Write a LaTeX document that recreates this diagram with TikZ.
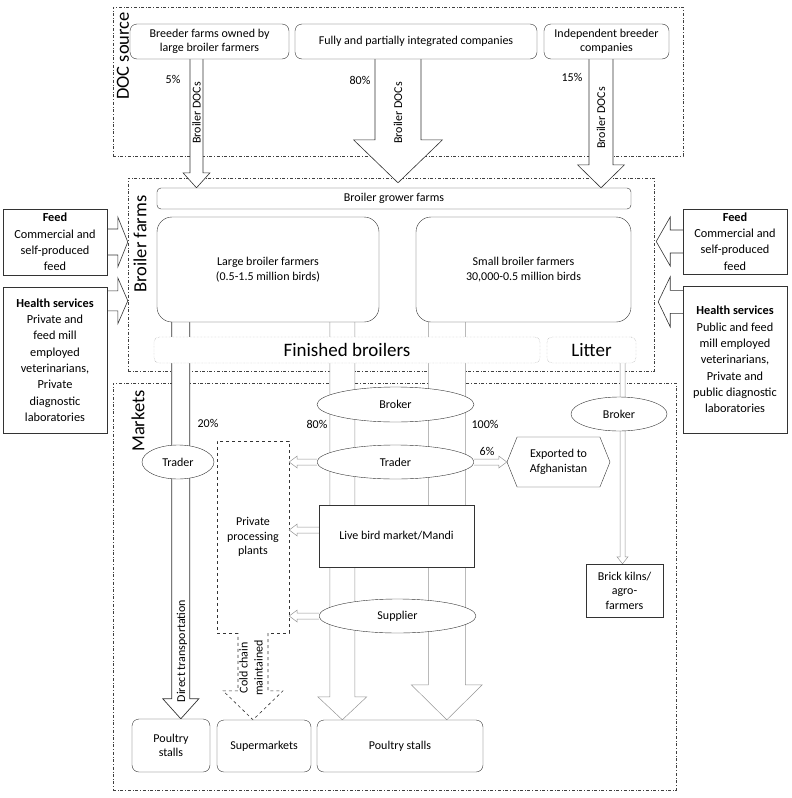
\documentclass[tikz,border=0pt]{standalone}
\usepackage{fontspec}
\setmainfont{Carlito}
\usetikzlibrary{positioning,calc,shapes.geometric,shapes.symbols,backgrounds}
\definecolor{flowgray}{RGB}{150,150,150}
\colorlet{linedark}{black!80}
\colorlet{framegray}{black!75}

\newcommand\blockarrow[6][]{%
  \coordinate (ba_h) at ($(#3)!#6pt!(#2)$);
  \draw[#1] ($(#2)!#4pt!90:(#3)$) -- ($(ba_h)!#4pt!90:(#3)$) -- ($(ba_h)!#5pt!90:(#3)$) -- (#3)
    -- ($(ba_h)!#5pt!-90:(#3)$) -- ($(ba_h)!#4pt!-90:(#3)$) -- ($(#2)!#4pt!-90:(#3)$);
}

\begin{document}
\begin{tikzpicture}[x=1pt,y=-1pt,
    every node/.style={font=\fontsize{12}{14.5}\selectfont,align=center,inner sep=1pt},
    rbox/.style={draw=linedark,fill=white,rounded corners=7pt,inner sep=0pt},
    sqbox/.style={draw=linedark,fill=white,inner sep=0pt},
    oval/.style={draw=linedark,fill=white,ellipse,inner sep=0pt},
    frame/.style={draw=framegray,dash dot,inner sep=0pt},
    softbox/.style={draw=flowgray,densely dotted,fill=white,rounded corners=5pt,inner sep=0pt,font=\fontsize{19}{21}\selectfont},
    biglabel/.style={font=\fontsize{18.5}{20}\selectfont,rotate=90},
    sidebox/.style={draw=linedark,fill=white,inner sep=0pt,minimum width=104pt,font=\fontsize{12.3}{16.3}\selectfont},
    flow/.style={draw=flowgray,fill=white,line width=.5pt},
    darkflow/.style={draw=linedark,fill=white,line width=.7pt},
    feedflow/.style={draw=linedark,fill=white,line width=.6pt},
    coldflow/.style={draw=linedark,fill=white,dashed,line width=.6pt}]
  \useasboundingbox (0,0) rectangle (792,798);

  % DOC sources
  \node[rbox,minimum width=159pt,minimum height=35pt] (breeder) at (209.5,41.5) {Breeder farms owned by\\large broiler farmers};
  \node[rbox,minimum width=242pt,minimum height=35pt] (integrated) at (416,41.5) {Fully and partially integrated companies};
  \node[rbox,minimum width=125pt,minimum height=35pt] (independent) at (606.5,41.5) {Independent breeder\\companies};

  % broiler farms
  \node[rbox,rounded corners=4pt,minimum width=474pt,minimum height=21pt] (grower) at (394,198.5) {Broiler grower farms};
  \node[rbox,rounded corners=15pt,minimum width=222pt,minimum height=105pt] (large) at (268,269.5) {Large broiler farmers\\(0.5-1.5 million birds)};
  \node[rbox,rounded corners=15pt,minimum width=215pt,minimum height=105pt] (small) at (523.5,269.5) {Small broiler farmers\\30,000-0.5 million birds};
  \node[softbox,minimum width=386pt,minimum height=26pt] (finished) at (347,350) {Finished broilers};
  \node[softbox,minimum width=89pt,minimum height=26pt] (litter) at (591.5,350) {Litter};

  % inputs
  \node[sidebox,minimum height=66pt] (feedL) at (55,242) {\textbf{Feed}\\Commercial and\\self-produced\\feed};
  \node[sidebox,minimum height=146pt] (healthL) at (55,360) {\textbf{Health services}\\Private and\\feed mill\\employed\\veterinarians,\\Private\\diagnostic\\laboratories};
  \node[sidebox,minimum height=65pt] (feedR) at (735,241.5) {\textbf{Feed}\\Commercial and\\self-produced\\feed};
  \node[sidebox,minimum height=147pt] (healthR) at (735,359.5) {\textbf{Health services}\\Public and feed\\mill employed\\veterinarians,\\Private and\\public diagnostic\\laboratories};

  % markets
  \node[oval,minimum width=157pt,minimum height=35pt] (brokerM) at (395.5,404.5) {Broker};
  \node[oval,minimum width=157pt,minimum height=34pt] (traderM) at (395.5,462) {Trader};
  \node[oval,minimum width=72pt,minimum height=34pt] (traderL) at (178,462) {Trader};
  \node[sqbox,minimum width=155pt,minimum height=62pt] (mandi) at (396.5,536) {Live bird market/Mandi};
  \node[oval,minimum width=157pt,minimum height=34pt] (supplier) at (397.5,616) {Supplier};
  \node[draw=linedark,dashed,fill=white,inner sep=0pt,minimum width=72pt,minimum height=192pt] (ppp) at (253,537) {Private\\processing\\plants};
  \node[draw=linedark,fill=white,signal,signal to=west and east,signal pointer angle=136,inner sep=0pt,minimum width=103pt,minimum height=50pt] (export) at (558.5,462) {Exported to\\Afghanistan};
  \node[oval,minimum width=96pt,minimum height=34pt] (brokerR) at (619,414) {Broker};
  \node[sqbox,minimum width=77pt,minimum height=53pt] (brick) at (624.5,590.5) {Brick kilns/\\agro-\\farmers};
  \node[rbox,minimum width=78pt,minimum height=53pt] (stallsL) at (171,745.5) {Poultry\\stalls};
  \node[rbox,minimum width=94pt,minimum height=52pt] (supermkt) at (264,746) {Supermarkets};
  \node[rbox,minimum width=166pt,minimum height=52pt] (stallsR) at (400,746) {Poultry stalls};

  \begin{pgfonlayer}{background}
    \node[frame,minimum width=570pt,minimum height=149pt] (docsrc) at (398,81.5) {};
    \node[frame,minimum width=526pt,minimum height=193pt] (farms) at (391,274.5) {};
    \node[frame,minimum width=563pt,minimum height=407pt] (markets) at (394.5,586.5) {};

    \coordinate (doc1) at ($(breeder.south)+(-13,0)$);
    \coordinate (doc2) at ($(integrated.south)+(-18,0)$);
    \coordinate (doc3) at ($(independent.south)+(-5.5,0)$);
    \blockarrow[feedflow]{doc1}{doc1 |- grower.north}{6.5}{13.5}{15}
    \blockarrow[feedflow]{doc2}{$(doc2 |- grower.north)+(0,-5)$}{23}{44.5}{43}
    \blockarrow[feedflow]{doc3}{doc3 |- grower.north}{12}{23.5}{23}

    \coordinate (feedLa) at (feedL.east);
    \coordinate (healthLa) at ($(healthL.north east)+(0,14)$);
    \coordinate (feedRa) at (feedR.west);
    \coordinate (healthRa) at ($(healthR.north west)+(0,16)$);
    \blockarrow[feedflow]{feedLa}{farms.west |- feedLa}{13}{25}{10}
    \blockarrow[feedflow]{healthLa}{farms.west |- healthLa}{10}{23}{10}
    \blockarrow[feedflow]{feedRa}{$(farms.east |- feedRa)+(2,0)$}{11.5}{24.5}{14}
    \blockarrow[feedflow]{healthRa}{$(farms.east |- healthRa)+(4,0)$}{11.5}{25}{12}

    \coordinate (direct) at ($(large.south west)+(24,0)$);
    \coordinate (viaLarge) at ($(large.south west)+(185.5,0)$);
    \coordinate (viaSmall) at ($(small.south west)+(31,0)$);
    \coordinate (litterOut) at ($(litter.south)+(31,0)$);
    \blockarrow[darkflow]{direct}{direct |- stallsL.north}{9}{18}{20}
    \blockarrow[flow]{viaLarge}{viaLarge |- stallsR.north}{12.5}{24.5}{23}
    \blockarrow[flow]{viaSmall}{viaSmall |- stallsR.north}{18.5}{35.5}{35}
    \blockarrow[flow]{litterOut}{litterOut |- brick.north}{2.5}{5.5}{7}
  \end{pgfonlayer}

  \coordinate (mandiOut) at ($(mandi.west)+(0,-6)$);
  \blockarrow[flow]{traderM.west}{ppp.east |- traderM.west}{3}{6}{8}
  \blockarrow[flow]{mandiOut}{ppp.east |- mandiOut}{3}{6}{8}
  \blockarrow[flow]{supplier.west}{ppp.east |- supplier.west}{3}{6}{8}
  \blockarrow[flow]{traderM.east}{export.west}{3}{6}{8}
  \blockarrow[coldflow]{ppp.south}{ppp.south |- supermkt.north}{15}{30}{29}

  % labels
  \node[biglabel] (docLabel) at (123,56) {DOC source};
  \node[biglabel] (farmsLabel) at (140,244) {Broiler farms};
  \node[biglabel] (marketsLabel) at (138,421) {Markets};
  \node[rotate=90] (docTxt1) at (196.5,113) {Broiler DOCs};
  \node[rotate=90] (docTxt2) at (398,113) {Broiler DOCs};
  \node[rotate=90] (docTxt3) at (601,118) {Broiler DOCs};
  \node (pct5) at (173,79) {5\%};
  \node (pct80a) at (360,80) {80\%};
  \node (pct15) at (572,77) {15\%};
  \node (pct20) at (208,423) {20\%};
  \node (pct80b) at (317,424) {80\%};
  \node (pct100) at (485,424) {100\%};
  \node (pct6) at (487,451) {6\%};
  \node[rotate=90] (directTxt) at (182,651) {Direct transportation};
  \node[rotate=90,font=\fontsize{12}{15}\selectfont] (coldTxt) at (251,668) {Cold chain\\maintained};
\end{tikzpicture}
\end{document}
